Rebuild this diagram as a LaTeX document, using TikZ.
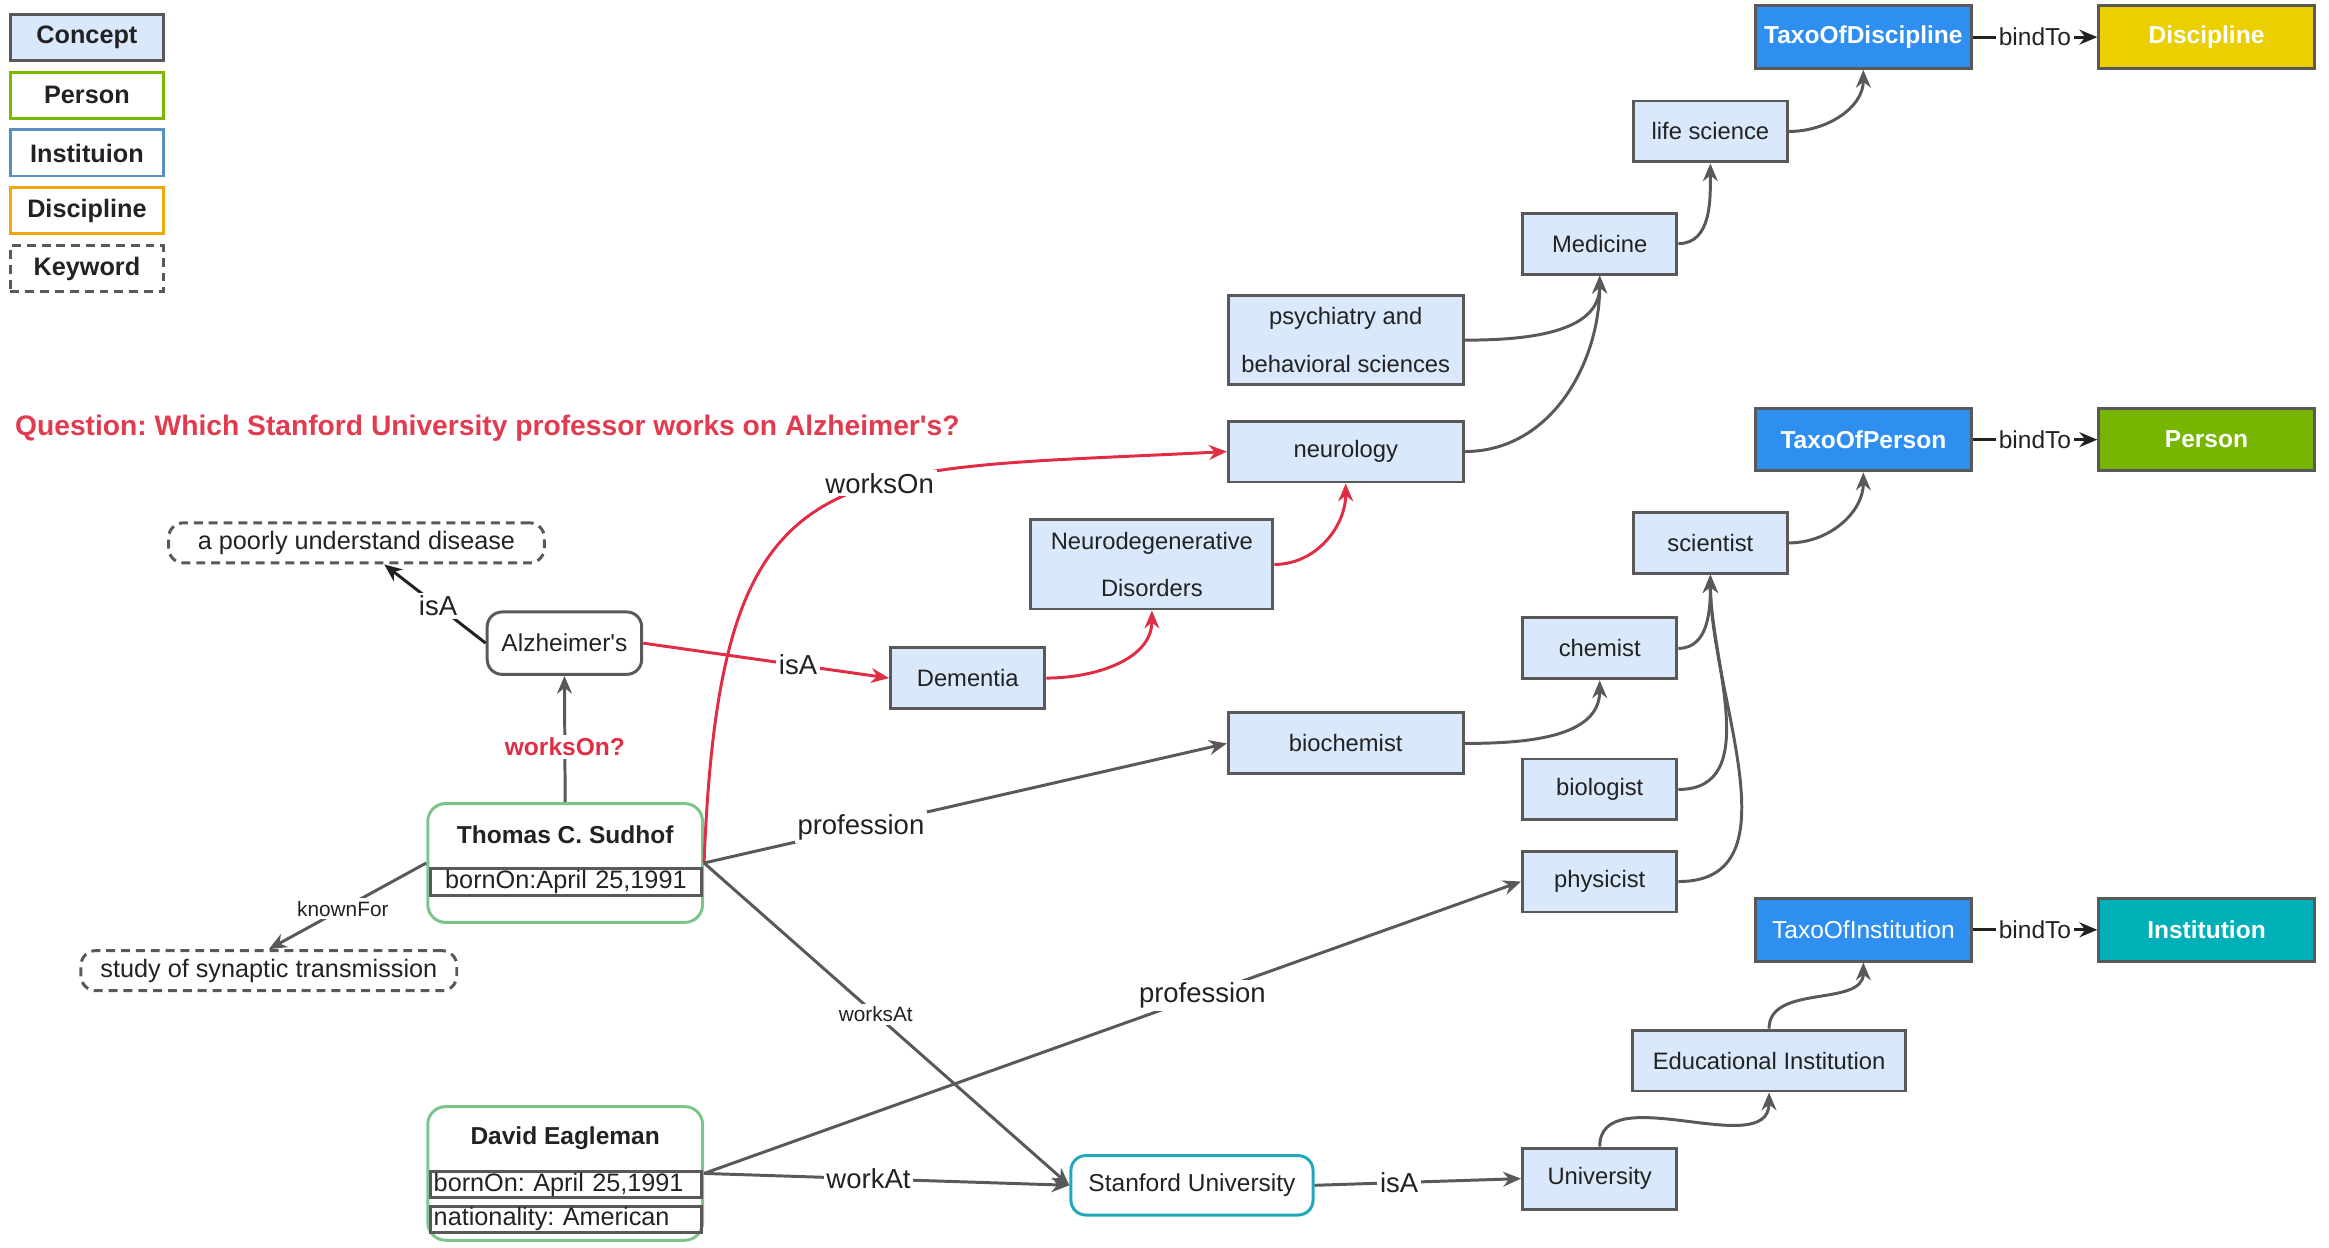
\documentclass[tikz,border=0pt]{standalone}
\usepackage{fontspec}
\setmainfont{Liberation Sans}
\frenchspacing
\usetikzlibrary{shapes, positioning, arrows, arrows.meta}
\definecolor{conceptfill}{HTML}{DAE8FC}
\definecolor{edgegray}{HTML}{595959}
\definecolor{textdark}{HTML}{222222}
\definecolor{personline}{HTML}{7AB800}
\definecolor{instline}{HTML}{5A8FBF}
\definecolor{discline}{HTML}{EFA70A}
\definecolor{taxoblue}{HTML}{2F8FF0}
\definecolor{discfill}{HTML}{EBCF00}
\definecolor{personfill}{HTML}{76B600}
\definecolor{instfill}{HTML}{00B0B8}
\definecolor{stanfordline}{HTML}{20A8B8}
\definecolor{thomasline}{HTML}{7CC48A}
\definecolor{qred}{HTML}{E23B50}
\definecolor{redline}{HTML}{E02D45}
\tikzset{
>={Stealth[length=12pt,width=10pt]}, % arrow heads of all connectors
node distance=6pt, % gap between the legend boxes
text=textdark,
}
\tikzstyle{legend} = [rectangle, line width=2pt, minimum width=103pt,
    minimum height=31pt, font=\bfseries\fontsize{17}{19}\selectfont]
\tikzstyle{concept} = [rectangle, draw=edgegray, fill=conceptfill, line width=2pt,
    minimum width=104pt, minimum height=41pt, align=center, font=\fontsize{16}{32}\selectfont]
\tikzstyle{taxo} = [rectangle, draw=edgegray, fill=taxoblue, line width=2pt,
    minimum width=145pt, minimum height=42pt, text=white, font=\bfseries\fontsize{16.5}{19}\selectfont]
\tikzstyle{target} = [taxo, text=white]
\tikzstyle{keyword} = [rectangle, rounded corners=10pt, draw=edgegray, line width=2pt,
    dash pattern=on 6pt off 4pt, minimum width=253pt, minimum height=27pt, font=\fontsize{17}{19}\selectfont]
\tikzstyle{entity} = [rectangle, rounded corners=10pt, draw=edgegray, line width=2pt,
    minimum height=42pt, font=\fontsize{16.5}{19}\selectfont]
\tikzstyle{person} = [rectangle, rounded corners=12pt, draw=thomasline, line width=2pt,
    minimum width=185pt, minimum height=80pt]
\tikzstyle{attr} = [rectangle, draw=edgegray, line width=2pt, text width=178pt, inner xsep=2pt,
    inner ysep=0pt, minimum height=18pt, font=\fontsize{17}{18}\selectfont]
\tikzstyle{line} = [draw=edgegray, line width=2pt, ->]
\tikzstyle{redarrow} = [draw=redline, line width=2pt, ->]
\tikzstyle{bind} = [draw=textdark, line width=2pt, ->]
\tikzstyle{lbl} = [fill=white, inner sep=2pt, font=\fontsize{18.5}{20}\selectfont]
\tikzstyle{smalllbl} = [fill=white, inner sep=2pt, font=\fontsize{14}{16}\selectfont]

\begin{document}
\begin{tikzpicture}[x=1pt, y=-1pt]
\useasboundingbox (0,0) rectangle (1568,840);

% legend
\node [legend, draw=edgegray, fill=conceptfill] (lgconcept) at (58.5,25) {Concept};
\node [legend, draw=personline, below=of lgconcept] (lgperson) {Person};
\node [legend, draw=instline, below=of lgperson] (lginst) {Instituion};
\node [legend, draw=discline, below=of lginst] (lgdisc) {Discipline};
\node [legend, draw=edgegray, dash pattern=on 6pt off 4pt, below=of lgdisc] (lgkey) {Keyword};

\node [anchor=west, inner sep=0pt, text=qred, font=\bfseries\fontsize{19}{21}\selectfont] (question) at (10,288)
    {Question: Which Stanford University professor works on Alzheimer\textquotesingle s?};

% taxonomies
\node [taxo] (taxodisc) at (1254.5,25) {TaxoOfDiscipline};
\node [target, fill=discfill, right=84pt of taxodisc] (disc) {Discipline};
\node [taxo] (taxoperson) at (1254.5,296) {TaxoOfPerson};
\node [target, fill=personfill, right=84pt of taxoperson] (person) {Person};
\node [taxo, font=\fontsize{16.5}{19}\selectfont] (taxoinst) at (1254.5,626) {TaxoOfInstitution};
\node [target, fill=instfill, right=84pt of taxoinst] (inst) {Institution};

% concepts
\node [concept] (life) at (1151.5,88.5) {life science};
\node [concept] (medicine) at (1077,164) {Medicine};
\node [concept, minimum width=158pt, minimum height=60pt] (psych) at (906,229) {psychiatry and\\behavioral sciences};
\node [concept, minimum width=158pt] (neuro) at (906,304) {neurology};
\node [concept, minimum width=163pt, minimum height=60pt] (neurodeg) at (775.5,380) {Neurodegenerative\\Disorders};
\node [concept] (dementia) at (651.5,456.5) {Dementia};
\node [concept, minimum width=158pt] (biochem) at (906,500.5) {biochemist};
\node [concept] (scientist) at (1151.5,365.5) {scientist};
\node [concept] (chemist) at (1077,436.5) {chemist};
\node [concept] (biologist) at (1077,531.5) {biologist};
\node [concept] (physicist) at (1077,593.5) {physicist};
\node [concept, minimum width=184pt] (edu) at (1191,714) {Educational Institution};
\node [concept] (univ) at (1077,793.5) {University};

% entities and keywords
\node [entity, minimum width=104pt] (alz) at (380,433) {Alzheimer\textquotesingle s};
\node [keyword] (poorly) at (240,365.5) {a poorly understand disease};
\node [keyword] (study) at (181,653.5) {study of synaptic transmission};
\node [entity, draw=stanfordline, minimum width=163pt, minimum height=40pt] (stanford) at (802.5,798) {Stanford University};

% persons
\node [person] (thomas) at (380.5,581) {};
\node [font=\bfseries\fontsize{16.5}{19}\selectfont] (thomasname) at (380.5,562) {Thomas C. Sudhof};
\node [attr, align=center] (thomasborn) at (381,594) {bornOn:April 25,1991};
\node [person, minimum height=90pt] (david) at (380.5,790) {};
\node [font=\bfseries\fontsize{16.5}{19}\selectfont] (davidname) at (380.5,766) {David Eagleman};
\node [attr, align=left] (davidborn) at (381,797.5) {bornOn: April 25,1991};
\node [attr, align=left] (davidnat) at (381,821) {nationality: American};

  \path [bind] (taxodisc) -- node[lbl, font=\fontsize{16.5}{19}\selectfont] {bindTo} (disc);
  \path [bind] (taxoperson) -- node[lbl, font=\fontsize{16.5}{19}\selectfont] {bindTo} (person);
  \path [bind] (taxoinst) -- node[lbl, font=\fontsize{16.5}{19}\selectfont] {bindTo} (inst);

  \path [line] (life.east) to[out=0, in=-90] (taxodisc.south);
  \path [line] (medicine.east) to[out=0, in=-90] (life.south);
  \path [line] (psych.east) to[out=0, in=-90] (medicine.south);
  \path [line] (neuro.east) to[out=0, in=-90] (medicine.south);
  \path [redarrow] (neurodeg.east) to[out=0, in=-90] (neuro.south);
  \path [redarrow] (dementia.east) to[out=0, in=-90] (neurodeg.south);
  \path [redarrow] (alz.east) -- node[lbl, pos=0.63] {isA} (dementia.west);
  \path [redarrow] (thomas.east) .. controls (485,300) and (555,318) .. node[lbl, pos=0.61] {worksOn} (neuro.west);

  \path [bind] (alz.west) -- node[lbl, pos=0.47] {isA} (poorly);
  \path [line] (thomas.north) -- node[lbl, pos=0.44, text=redline, font=\bfseries\fontsize{16.5}{19}\selectfont] {worksOn?} (alz.south);
  \path [line] (thomas.west) -- node[smalllbl, pos=0.53] {knownFor} (study.north);
  \path [line] (thomas.east) -- node[lbl, pos=0.3] {profession} (biochem.west);
  \path [line] (thomas.east) -- node[smalllbl, pos=0.47] {worksAt} (stanford.west);
  \path [line] (david.east) -- node[lbl, pos=0.61] {profession} (physicist.west);
  \path [line] (david.east) -- node[lbl, pos=0.45] {workAt} (stanford.west);
  \path [line] (stanford.east) -- node[lbl, pos=0.41] {isA} (univ.west);

  \path [line] (biochem.east) to[out=0, in=-90] (chemist.south);
  \path [line] (chemist.east) to[out=0, in=-90] (scientist.south);
  \path [line] (biologist.east) to[out=0, in=-90] (scientist.south);
  \path [line] (physicist.east) to[out=0, in=-90] (scientist.south);
  \path [line] (scientist.east) to[out=0, in=-90] (taxoperson.south);
  \path [line] (univ.north) to[out=90, in=-90] (edu.south);
  \path [line] (edu.north) to[out=90, in=-90] (taxoinst.south);

\end{tikzpicture}
\end{document}
